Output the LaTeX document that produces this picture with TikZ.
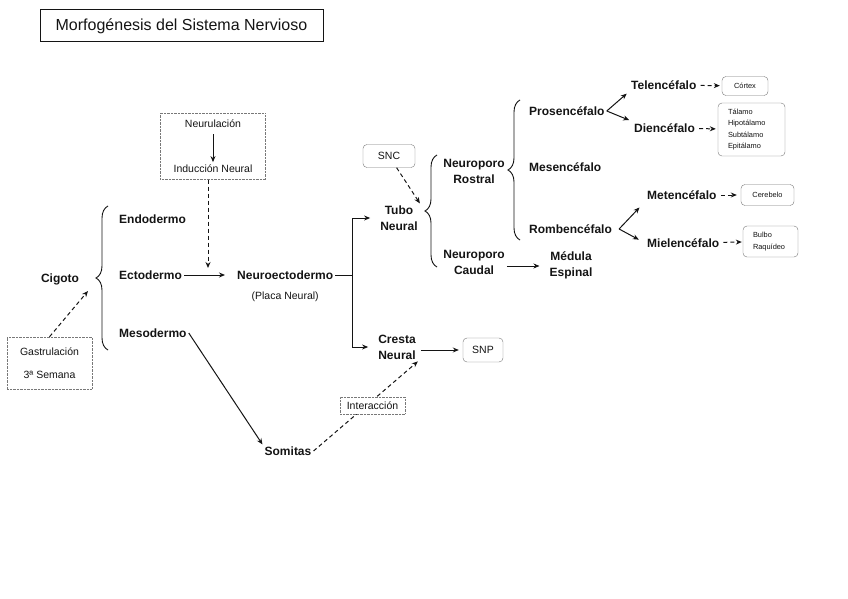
\documentclass[tikz,border=0pt]{standalone}
\usepackage{fontspec}
\setmainfont{Liberation Sans}
\usetikzlibrary{arrows.meta,positioning,calc,fit,decorations.pathreplacing}
\definecolor{ink}{RGB}{20,20,20}
\definecolor{rim}{RGB}{120,120,120}
\tikzset{
  lbl/.style={font=\fontsize{12}{16}\selectfont\bfseries,text=ink,align=center,
    inner sep=2pt},
  note/.style={font=\fontsize{10.5}{13}\selectfont,text=ink,align=center,
    inner sep=2pt},
  tinytxt/.style={font=\fontsize{7.4}{11.5}\selectfont,text=ink},
  dotbox/.style={draw=rim,densely dotted},
  rbox/.style={draw=rim,rounded corners=4pt,fill=white,align=center},
  arr/.style={-{Stealth[length=6pt,width=5pt]},line width=1pt,draw=ink},
  darr/.style={arr,dash pattern=on 4pt off 3pt},
  brc/.style={decorate,decoration={brace,amplitude=12pt},line width=0.9pt,
    draw=ink},
}
\begin{document}
\begin{tikzpicture}[x=1pt,y=-1pt]
  \useasboundingbox (0,0) rectangle (848,599);
  \node[draw=ink,line width=1pt,minimum width=283pt,minimum height=32pt,
    font=\fontsize{16}{18}\selectfont,text=ink] (title) at (181.5,26)
    {Morfogénesis del Sistema Nervioso};

  \node[lbl] (cig) at (60,279) {Cigoto};
  \node[lbl,anchor=west] (ecto) at (117,275) {Ectodermo};
  \node[lbl,anchor=west] (endo) at ([yshift=56pt]ecto.west) {Endodermo};
  \node[lbl,anchor=west] (meso) at ([yshift=-58pt]ecto.west) {Mesodermo};
  \draw[brc] (108,350) -- (108,206);
  \node[dotbox,note,minimum width=85pt,minimum height=52pt] (gas) at (49.5,363)
    {Gastrulación\\[10pt]3ª Semana};
  \coordinate (cigin) at (88,291);
  \draw[darr] (gas.north) -- (cigin);

  \node[note] (neu) at (213,124) {Neurulación};
  \node[note,below=32pt of neu] (ind) {Inducción Neural};
  \draw[arr,shorten <=4pt] (neu) -- (ind);
  \node[dotbox,fit=(neu)(ind),inner xsep=11pt,inner ysep=5pt] (nbox) {};
  \coordinate (meet) at (208,268);
  \draw[darr] (nbox.south -| meet) -- (meet);

  \node[lbl,anchor=west] (nect) at (235,275) {Neuroectodermo};
  \draw[arr,shorten >=10pt] (ecto) -- (nect);
  \node[note,below=8pt of nect] (placa) {(Placa Neural)};
  \coordinate (fork) at (352,275);
  \draw[line width=1pt,draw=ink] (nect) -- (fork);
  \node[lbl] (tubo) at (399,218) {Tubo\\Neural};
  \node[lbl] (cresta) at (397,347) {Cresta\\Neural};
  \draw[arr,shorten >=8pt] (fork) |- (tubo);
  \draw[arr,shorten >=8pt] (fork) |- (cresta);
  \node[rbox,note,minimum width=52pt,minimum height=23pt] (snc) at (389,156) {SNC};
  \draw[darr] (snc) -- (tubo.north east);

  \draw[brc] (437,267) -- (437,155);
  \node[lbl] (rostral) at (474,171) {Neuroporo\\Rostral};
  \node[lbl] (caudal) at (474,262) {Neuroporo\\Caudal};
  \node[lbl] (medula) at (571,265) {Médula\\Espinal};
  \draw[arr,shorten >=8pt] ([yshift=-4pt]caudal.east)
    -- ([yshift=-4pt]caudal.east -| medula.west);

  \draw[brc] (520,240) -- (520,100);
  \node[lbl,anchor=west] (prosen) at (527,111) {Prosencéfalo};
  \node[lbl,anchor=west] (mesen) at (527,167) {Mesencéfalo};
  \node[lbl,anchor=west] (romben) at (527,229) {Rombencéfalo};

  \node[lbl,anchor=west] (telen) at (629,85) {Telencéfalo};
  \node[lbl,anchor=west] (dien) at (632,128) {Diencéfalo};
  \draw[arr,shorten >=3pt] (prosen.east) -- (telen.south west);
  \draw[arr,shorten >=3pt] (prosen.east) -- (dien.north west);
  \node[lbl,anchor=west] (meten) at (645,195) {Metencéfalo};
  \node[lbl,anchor=west] (mielen) at (645,243) {Mielencéfalo};
  \draw[arr,shorten >=8pt] ([xshift=5pt]romben.east) -- (meten.south west);
  \draw[arr,shorten >=7pt] ([xshift=5pt]romben.east) -- (mielen.west);

  \node[rbox,tinytxt,minimum width=46pt,minimum height=19pt] (cortex) at (745,86)
    {Córtex};
  \node[rbox,tinytxt,align=left,text width=47pt,inner xsep=10pt,
    minimum height=53pt] (dbox) at (751.5,129.5)
    {Tálamo\\Hipotálamo\\Subtálamo\\Epitálamo};
  \node[rbox,tinytxt,minimum width=53pt,minimum height=21pt] (cereb) at (767.5,195)
    {Cerebelo};
  \node[rbox,tinytxt,align=left,text width=35pt,inner xsep=10pt,
    minimum height=31pt] (bulbo) at (770.5,241.5) {Bulbo\\Raquídeo};
  \draw[darr,shorten <=2pt,shorten >=2pt] (telen) -- (cortex);
  \draw[darr,shorten <=2pt,shorten >=2pt] (dien) -- (dbox);
  \draw[darr,shorten <=2pt,shorten >=4pt] (meten) -- (cereb);
  \draw[darr,shorten <=2pt,shorten >=1pt] (mielen) -- (bulbo);

  \node[rbox,note,minimum width=40pt,minimum height=24pt] (snp) at (483,350) {SNP};
  \draw[arr,shorten <=3pt,shorten >=4pt] (cresta.east |- snp) -- (snp);
  \node[lbl] (som) at (288,451) {Somitas};
  \draw[arr] (meso.east) -- (som.north west);
  \draw[darr] (som.east) -- (cresta.south east);
  \node[dotbox,fill=white,note,minimum width=65pt,minimum height=17pt] (inter)
    at (372.5,405.5) {Interacción};
\end{tikzpicture}
\end{document}
